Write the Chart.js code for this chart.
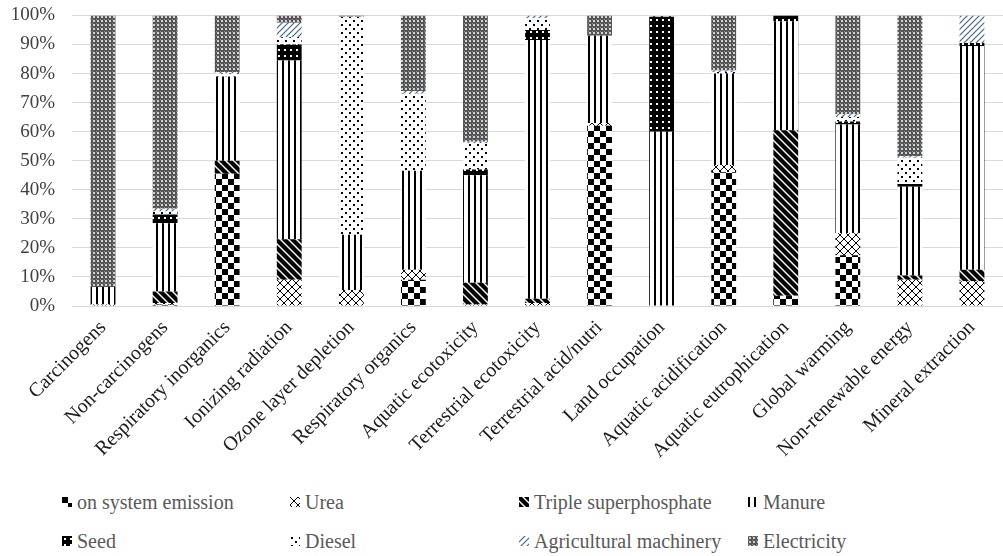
<!DOCTYPE html>
<html>
<head>
<meta charset="utf-8">
<script src="https://cdn.jsdelivr.net/npm/chart.js@4/dist/chart.umd.min.js"></script>
<style>
  body { margin: 0; background: #fff; }
  #wrap { position: relative; width: 1003px; height: 556px; overflow: hidden; font-family: "Liberation Serif", "Times New Roman", serif; }
  #box { position: absolute; left: 0; top: -13px; width: 1003px; height: 483px; }
  .leg { position: absolute; font-size: 20px; color: #595959; white-space: nowrap; line-height: 22px; }
  .leg canvas { display: inline-block; vertical-align: middle; margin-right: 5px; position: relative; top: -2px; }
</style>
</head>
<body>
<div id="wrap">
  <div id="box"><canvas id="chart"></canvas></div>
  <div id="legend"></div>
</div>
<script>
var categories = ['Carcinogens', 'Non-carcinogens', 'Respiratory inorganics', 'Ionizing radiation',
  'Ozone layer depletion', 'Respiratory organics', 'Aquatic ecotoxicity', 'Terrestrial ecotoxicity',
  'Terrestrial acid/nutri', 'Land occupation', 'Aquatic acidification', 'Aquatic eutrophication',
  'Global warming', 'Non-renewable energy', 'Mineral extraction'];

var seriesNames = ['on system emission', 'Urea', 'Triple superphosphate', 'Manure',
  'Seed', 'Diesel', 'Agricultural machinery', 'Electricity'];

var emission    = [0, 0.5, 45.5, 0, 0, 9, 0, 0, 62, 0, 46, 3.5, 17.5, 0, 0];
var urea        = [0.5, 0.5, 0, 9, 5.5, 3.5, 0.5, 1, 1, 0, 2.5, 0, 7.5, 9, 8.5];
var superphos   = [0, 4, 4.5, 14, 0, 0, 7.5, 1.5, 0, 0, 0, 57, 0, 1.5, 4];
var manure      = [6, 23.5, 29, 61.5, 19, 34, 37, 89, 30, 60, 31.5, 37.5, 37.5, 30.5, 77];
var seed        = [0, 3, 0, 5.5, 0, 0, 2, 3.5, 0, 39.5, 0, 2, 1, 1, 1];
var diesel      = [0, 1, 1, 2.5, 75, 26.5, 9, 4, 0, 0.5, 0.5, 0, 1.5, 9, 0];
var machinery   = [0, 1, 0.5, 5, 0, 1, 0.5, 1, 0, 0, 0.5, 0, 1, 0.5, 9.5];
var electricity = [93.5, 66.5, 19.5, 2.5, 0.5, 26, 43.5, 0, 7, 0, 19, 0, 34, 48.5, 0];

var yTicks = [0, 10, 20, 30, 40, 50, 60, 70, 80, 90, 100];

// pattern tiles
function tile(w, h, draw) {
  var c = document.createElement('canvas');
  c.width = w; c.height = h;
  var g = c.getContext('2d');
  g.fillStyle = '#fff';
  g.fillRect(0, 0, w, h);
  draw(g, w, h);
  return c;
}

var tiles = [
  tile(12, 12, function(g) {           // checkerboard
    g.fillStyle = '#000';
    g.fillRect(0, 0, 6, 6);
    g.fillRect(6, 6, 6, 6);
  }),
  tile(8, 8, function(g) {             // diagonal cross
    g.strokeStyle = '#000'; g.lineWidth = 1;
    g.beginPath();
    g.moveTo(0, 0); g.lineTo(8, 8);
    g.moveTo(8, 0); g.lineTo(0, 8);
    g.stroke();
  }),
  tile(8, 8, function(g) {             // wide downward diagonal
    g.fillStyle = '#000';
    g.beginPath();
    g.moveTo(0, 0); g.lineTo(3, 0); g.lineTo(8, 5); g.lineTo(8, 8); g.lineTo(5, 8); g.lineTo(0, 3);
    g.closePath(); g.fill();
    g.beginPath();
    g.moveTo(5, 0); g.lineTo(8, 0); g.lineTo(8, 3); g.closePath(); g.fill();
    g.beginPath();
    g.moveTo(0, 5); g.lineTo(3, 8); g.lineTo(0, 8); g.closePath(); g.fill();
  }),
  tile(6, 6, function(g) {             // vertical lines
    g.fillStyle = '#000';
    g.fillRect(0, 0, 2, 6);
  }),
  tile(6, 6, function(g) {             // dark with white dots
    g.fillStyle = '#000';
    g.fillRect(0, 0, 6, 6);
    g.fillStyle = '#fff';
    g.fillRect(2, 2, 2, 2);
  }),
  tile(8, 8, function(g) {             // sparse dots
    g.fillStyle = '#000';
    g.fillRect(1, 1, 2, 2);
    g.fillRect(5, 5, 2, 2);
  }),
  tile(6, 6, function(g) {             // blue diagonal
    g.strokeStyle = '#44638f'; g.lineWidth = 1.2;
    g.beginPath();
    g.moveTo(0, 6); g.lineTo(6, 0);
    g.moveTo(-1, 1); g.lineTo(1, -1);
    g.moveTo(5, 7); g.lineTo(7, 5);
    g.stroke();
  }),
  tile(4, 4, function(g) {             // fine gray grid
    g.fillStyle = '#555';
    g.fillRect(0, 0, 4, 4);
    g.fillStyle = '#d0d0d0';
    g.fillRect(1, 1, 2, 2);
    g.fillStyle = '#888';
    g.fillRect(0, 0, 1, 1);
  })
];

var ctx = document.getElementById('chart').getContext('2d');
var patterns = tiles.map(function(t) { return ctx.createPattern(t, 'repeat'); });

var values = [emission, urea, superphos, manure, seed, diesel, machinery, electricity];
var datasets = [];
for (var i = 0; i < values.length; i++) {
  datasets.push({
    label: seriesNames[i],
    data: values[i],
    backgroundColor: patterns[i],
    borderWidth: 0,
    barPercentage: 0.4,
    categoryPercentage: 1
  });
}

var family = "'Liberation Serif', 'Times New Roman', serif";

new Chart(ctx, {
  type: 'bar',
  data: { labels: categories, datasets: datasets },
  options: {
    responsive: true,
    maintainAspectRatio: false,
    animation: false,
    layout: { padding: { top: 0, right: 0, left: 0, bottom: 0 } },
    plugins: { legend: { display: false }, tooltip: { enabled: false } },
    scales: {
      x: {
        stacked: true,
        grid: { display: false },
        border: { color: '#d9d9d9' },
        ticks: { color: '#1a1a1a', font: { family: family, size: 20 }, maxRotation: 45, minRotation: 45, autoSkip: false, padding: 2 },
        afterFit: function(s) { s.height = 164; }
      },
      y: {
        stacked: true,
        min: 0,
        max: 100,
        afterBuildTicks: function(s) { s.ticks = yTicks.map(function(v) { return { value: v }; }); },
        grid: { color: '#d9d9d9', drawTicks: false },
        border: { display: false },
        ticks: { color: '#404040', font: { family: family, size: 19 }, padding: 17, callback: function(v) { return v + '%'; } },
        afterFit: function(s) { s.width = 72; }
      }
    }
  }
});

// legend
var legPos = [[62, 491], [290, 491], [519, 491], [748, 491], [62, 530], [290, 530], [519, 530], [748, 530]];
var legend = document.getElementById('legend');
for (var j = 0; j < seriesNames.length; j++) {
  var d = document.createElement('div');
  d.className = 'leg';
  d.style.left = legPos[j][0] + 'px';
  d.style.top = legPos[j][1] + 'px';
  var ic = document.createElement('canvas');
  ic.width = 10; ic.height = 10;
  var ig = ic.getContext('2d');
  ig.fillStyle = ig.createPattern(tiles[j], 'repeat');
  ig.fillRect(0, 0, 10, 10);
  d.appendChild(ic);
  d.appendChild(document.createTextNode(seriesNames[j]));
  legend.appendChild(d);
}
</script>
</body>
</html>
